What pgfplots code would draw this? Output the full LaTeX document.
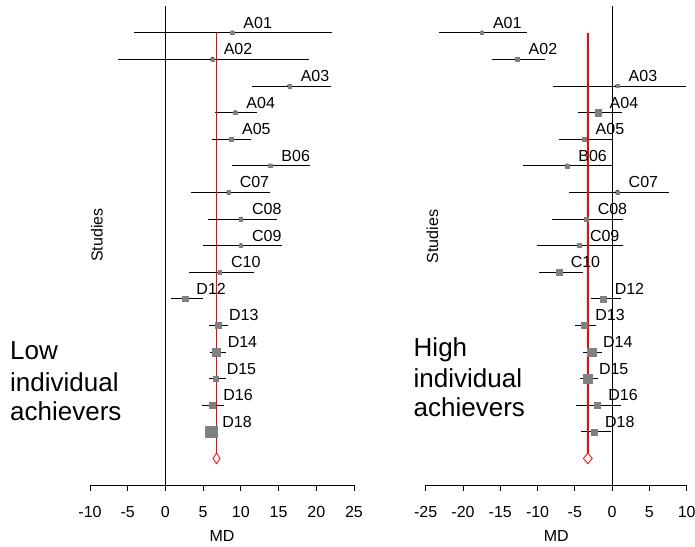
\documentclass[border=0pt]{standalone}
\usepackage{pgfplots}
\pgfplotsset{compat=1.18}
\usepackage{pgfplotstable}
\usepackage{fontspec}
\setmainfont{Liberation Sans}

\pgfplotstableread{
y  x      lo     hi     s    lab
16 8.86  -4.14  22.03  1.6  A01
15 6.25  -6.26  18.98  1.6  A02
14 16.46 11.5   21.9   1.8  A03
13 9.26  6.56   12.2   1.8  A04
12 8.68  6.16   11.34  1.8  A05
11 13.9  8.77   19.16  1.8  B06
10 8.37  3.38   13.8   1.8  C07
9  10.0  5.59   14.83  1.8  C08
8  10.0  5.02   15.49  1.6  C09
7  7.22  3.12   11.69  1.8  C10
6  2.63  0.68   5.02   2.8  D12
5  6.96  5.72   8.33   2.8  D13
4  6.78  5.9    8.02   4.1  D14
3  6.65  5.72   8.02   2.8  D15
2  6.2   4.84   7.76   3.0  D16
1  6.07  5.37   7.0    5.8  D18
}\lowtab

\pgfplotstableread{
y  x      lo      hi     s    lab
16 -17.47 -23.2  -11.48  1.8  A01
15 -12.69 -16.09 -9.02   2.0  A02
14 0.72   -7.99   9.84   1.6  A03
13 -1.83  -4.64   1.26   3.2  A04
12 -3.7   -7.1    0.0    2.0  A05
11 -6.03  -12.0   0.18   2.0  B06
10 0.72   -5.77   7.64   1.6  C07
9  -3.43  -8.13   1.48   2.0  C08
8  -4.47  -10.1   1.48   2.0  C09
7  -7.05  -9.87  -3.97   3.0  C10
6  -1.15  -2.9    1.13   3.0  D12
5  -3.75  -4.96  -2.1    3.2  D13
4  -2.72  -3.93  -1.38   4.3  D14
3  -3.26  -4.33  -1.96   4.2  D15
2  -2.01  -4.78   1.13   3.0  D16
1  -2.45  -4.2   -0.17   3.0  D18
}\hightab

\pgfplotsset{
  forest/.style={
    anchor=south west, scale only axis, height=478.8pt,
    ymin=-1, ymax=17,
    axis x line*=bottom, axis y line=none,
    tick align=outside, major tick length=6pt,
    tick style={black, line width=0.8pt},
    x axis line style={black, line width=0.8pt},
    clip=false,
    /pgf/number format/assume math mode=true,
    ticklabel style={font=\fontsize{16}{19}\selectfont},
    xticklabel style={yshift=-12pt},
    xlabel={MD},
    label style={font=\fontsize{16}{19}\selectfont},
    xlabel style={at={(axis description cs:0.5,0)}, anchor=center, yshift=-51pt},
  },
  cis/.style={only marks, mark=none,
    error bars/.cd, x dir=both, x explicit, error mark=none,
    error bar style={draw=black, line width=0.75pt}},
  sq/.style={scatter, only marks, mark=square*,
    scatter/use mapped color={draw=gray, fill=gray},
    visualization depends on={\thisrow{s} \as \ms},
    scatter/@pre marker code/.append style={/tikz/mark size=\ms}},
  labs/.style={only marks, mark=none, nodes near coords, point meta=explicit symbolic,
    nodes near coords style={anchor=base west, inner sep=0pt, xshift=11pt, yshift=4.4pt,
      font=\fontsize{16}{19}\selectfont, text=black}},
}

\begin{document}
\begin{tikzpicture}
\useasboundingbox (0,0) rectangle (695pt,546pt);

\begin{axis}[forest, at={(90pt,61pt)}, width=264pt, xmin=-10, xmax=25,
  xtick={-10,-5,0,5,10,15,20,25}]
\addplot[black, line width=0.8pt] coordinates {(0,-1) (0,17)};
\addplot[cis] table[x=x, y=y, x error plus expr=\thisrow{hi}-\thisrow{x}, x error minus expr=\thisrow{x}-\thisrow{lo}] \lowtab;
\addplot[red, line width=1.5pt] coordinates {(6.78,16) (6.78,0.2)};
\addplot[sq] table[x=x, y=y] \lowtab;
\addplot[labs] table[x=x, y=y, meta=lab] \lowtab;
\addplot[red, line width=0.8pt, fill=white] coordinates {(6.31,0) (6.78,0.2) (7.25,0) (6.78,-0.2)} -- cycle;
\end{axis}

\begin{axis}[forest, at={(425.7pt,61pt)}, width=261pt, xmin=-25, xmax=10,
  xtick={-25,-20,-15,-10,-5,0,5,10}]
\addplot[black, line width=0.8pt] coordinates {(0,-1) (0,17)};
\addplot[cis] table[x=x, y=y, x error plus expr=\thisrow{hi}-\thisrow{x}, x error minus expr=\thisrow{x}-\thisrow{lo}] \hightab;
\addplot[red, line width=1.5pt] coordinates {(-3.26,16) (-3.26,0.2)};
\addplot[sq] table[x=x, y=y] \hightab;
\addplot[labs] table[x=x, y=y, meta=lab] \hightab;
\addplot[red, line width=0.8pt, fill=white] coordinates {(-3.86,0) (-3.26,0.2) (-2.66,0) (-3.26,-0.2)} -- cycle;
\end{axis}

\node[rotate=90, inner sep=0pt, font=\fontsize{16}{19}\selectfont] at (97pt,311pt) {Studies};
\node[rotate=90, inner sep=0pt, font=\fontsize{16}{19}\selectfont] at (432.5pt,309.5pt) {Studies};

\begin{scope}[every node/.style={anchor=base west, inner sep=0pt, font=\fontsize{26}{30}\selectfont}]
\node at (10pt,186pt) {Low};
\node at (10pt,154.3pt) {individual};
\node at (10pt,125.3pt) {achievers};
\node at (413.5pt,189.3pt) {High};
\node at (413.5pt,158.7pt) {individual};
\node at (413.5pt,129.3pt) {achievers};
\end{scope}
\end{tikzpicture}
\end{document}
